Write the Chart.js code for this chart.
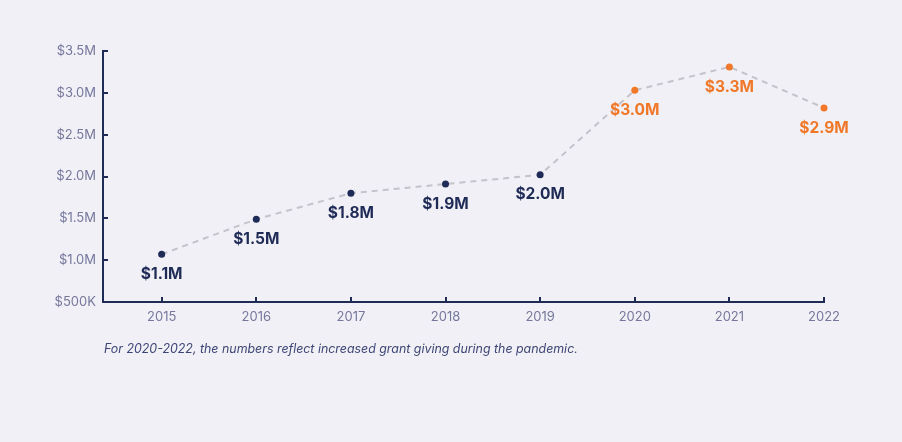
<!DOCTYPE html>
<html>
<head>
<meta charset="utf-8">
<script src="https://cdn.jsdelivr.net/npm/chart.js@4/dist/chart.umd.min.js"></script>
<style>
  html,body{margin:0;padding:0;background:#f1f0f6;}
  #wrap{position:relative;width:902px;height:442px;}
  #note{position:absolute;left:104px;top:341px;font-family:Inter,"Noto Sans",sans-serif;font-style:italic;font-size:12.4px;color:#3d4576;white-space:nowrap;}
</style>
</head>
<body>
<div id="wrap">
  <canvas id="c" width="902" height="442"></canvas>
  <div id="note">For 2020-2022, the numbers reflect increased grant giving during the pandemic.</div>
</div>
<script>
const years = [2015, 2016, 2017, 2018, 2019, 2020, 2021, 2022];
const values = [1.07, 1.49, 1.80, 1.91, 2.02, 3.03, 3.31, 2.82];
const valueLabels = ["$1.1M", "$1.5M", "$1.8M", "$1.9M", "$2.0M", "$3.0M", "$3.3M", "$2.9M"];
const pandemicYears = [2020, 2021, 2022];
const yTicks = [0.5, 1.0, 1.5, 2.0, 2.5, 3.0, 3.5];

const NAVY = '#1f2b57';
const ORANGE = '#f07828';
const TICKTXT = '#76779d';
const colors = years.map(y => pandemicYears.includes(y) ? ORANGE : NAVY);

const labelPlugin = {
  id: 'valLabels',
  afterDatasetsDraw(chart) {
    const ctx = chart.ctx;
    const meta = chart.getDatasetMeta(0);
    ctx.save();
    ctx.font = 'bold 15.5px Inter, "Noto Sans", sans-serif';
    ctx.textAlign = 'center';
    ctx.textBaseline = 'middle';
    meta.data.forEach((pt, i) => {
      ctx.fillStyle = colors[i];
      ctx.fillText(valueLabels[i], pt.x, pt.y + 20);
    });
    ctx.restore();
  }
};

const tickPlugin = {
  id: 'innerTicks',
  afterDraw(chart) {
    const ctx = chart.ctx;
    const xs = chart.scales.x, ys = chart.scales.y;
    const a = chart.chartArea;
    ctx.save();
    ctx.strokeStyle = NAVY;
    ctx.lineWidth = 2;
    ys.ticks.forEach(t => {
      const py = Math.round(ys.getPixelForValue(t.value));
      ctx.beginPath(); ctx.moveTo(a.left, py); ctx.lineTo(a.left + 5, py); ctx.stroke();
    });
    xs.ticks.forEach(t => {
      const px = Math.round(xs.getPixelForValue(t.value));
      ctx.beginPath(); ctx.moveTo(px, a.bottom); ctx.lineTo(px, a.bottom - 5); ctx.stroke();
    });
    ctx.restore();
  }
};

new Chart(document.getElementById('c'), {
  type: 'line',
  data: {
    datasets: [{
      data: years.map((y, i) => ({x: y, y: values[i]})),
      borderColor: '#c3c3cb',
      borderWidth: 2,
      borderDash: [6, 5],
      tension: 0,
      fill: false,
      clip: false,
      pointRadius: 3.5,
      pointHoverRadius: 3.5,
      pointBackgroundColor: colors,
      pointBorderColor: colors,
      pointBorderWidth: 0
    }]
  },
  options: {
    responsive: false,
    animation: false,
    events: [],
    layout: { padding: { left: 0, right: 78, top: 51, bottom: 0 } },
    plugins: { legend: { display: false }, tooltip: { enabled: false } },
    scales: {
      x: {
        type: 'linear',
        min: 2014.38,
        max: 2022,
        afterBuildTicks(scale) { scale.ticks = years.map(v => ({value: v})); },
        afterFit(scale) { scale.height = 140; },
        grid: { display: false, drawTicks: false },
        border: { display: true, color: NAVY, width: 2 },
        ticks: {
          padding: 7,
          color: TICKTXT,
          font: { family: 'Inter, "Noto Sans", sans-serif', size: 13 },
          callback: v => String(v)
        }
      },
      y: {
        min: 0.5,
        max: 3.5,
        afterBuildTicks(scale) { scale.ticks = yTicks.map(v => ({value: v})); },
        afterFit(scale) { scale.width = 103; },
        grid: { display: false, drawTicks: false },
        border: { display: true, color: NAVY, width: 2 },
        ticks: {
          padding: 7,
          color: TICKTXT,
          font: { family: 'Inter, "Noto Sans", sans-serif', size: 13 },
          callback: v => v === 0.5 ? '$500K' : '$' + v.toFixed(1) + 'M'
        }
      }
    }
  },
  plugins: [labelPlugin, tickPlugin]
});
</script>
</body>
</html>
